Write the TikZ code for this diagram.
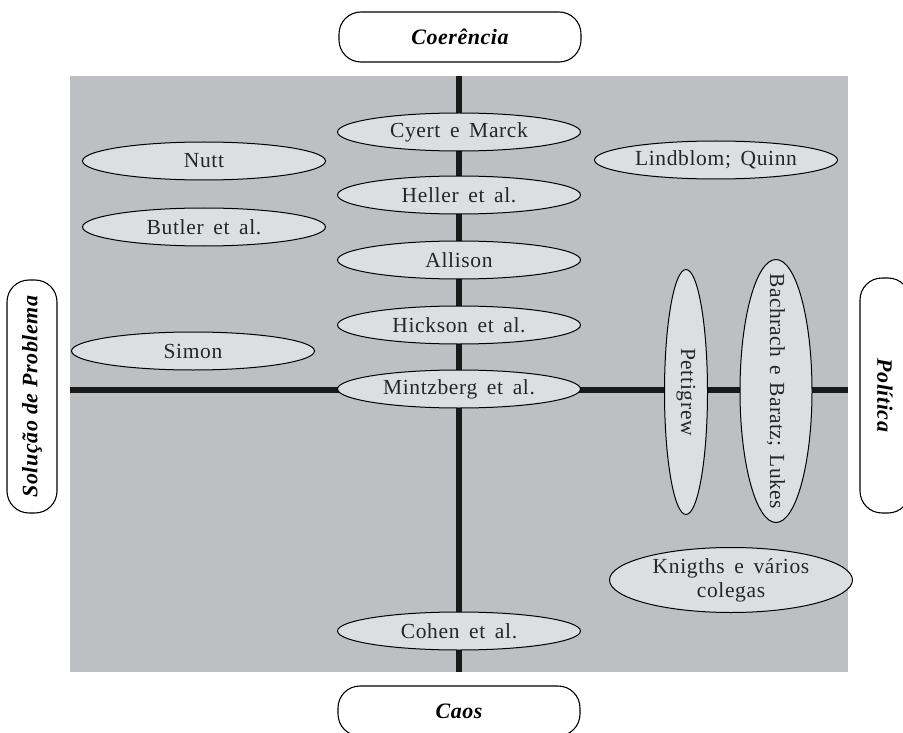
\documentclass[tikz,border=0pt]{standalone}
\usepackage{fontspec}
\setmainfont{Liberation Serif}
\newfontfamily\ellfont{Liberation Serif}[LetterSpace=3, WordSpace=1.6]
\newfontfamily\bachfont{Liberation Serif}[LetterSpace=1.5, WordSpace=1.4]
\newfontfamily\labfont{Liberation Serif}[LetterSpace=2.5]
\usetikzlibrary{shapes.geometric}
\definecolor{bggray}{RGB}{190,191,194}
\definecolor{ellgray}{RGB}{221,222,224}
\begin{document}
\begin{tikzpicture}[x=1pt,y=-1pt,
  ellfnt/.style={font=\ellfont\fontsize{21.5}{24}\selectfont, text=black!85},
  ell/.style={ellipse, draw=black, line width=1pt, fill=ellgray, inner sep=0pt,
    minimum width=243pt, minimum height=38pt, align=center, ellfnt},
  lab/.style={draw=black, line width=1.1pt, rounded corners=22pt, fill=white,
    minimum width=242pt, minimum height=50pt, inner sep=0pt,
    font=\labfont\fontsize{22}{26}\selectfont\bfseries\itshape},
  axis/.style={line width=6pt, draw=black!90}]
\useasboundingbox (0,0) rectangle (903,733);
\fill[bggray] (70,76) rectangle (848,672);
% axes
\coordinate (vt) at (459,76);
\coordinate (vb) at (459,672);
\coordinate (hl) at (70,390);
\coordinate (hr) at (848,390);
\draw[axis] (vt) -- (vb);
\draw[axis] (hl) -- (hr);
% labels
\node[lab] (coer) at (460,37) {Coerência};
\node[lab] (caos) at (459,711) {Caos};
\node[lab, rotate=90, minimum width=233pt] (sol) at (32,396.5) {Solução de Problema};
\node[lab, rotate=-90, minimum width=235pt] (pol) at (885,395.5) {Política};
% ellipses
\node[ell] (cyert) at (459,132) {Cyert e Marck};
\node[ell] (nutt) at (204,161) {Nutt};
\node[ell] (lind) at (716,160) {Lindblom; Quinn};
\node[ell] (heller) at (459,195) {Heller et al.};
\node[ell] (butler) at (204,227) {Butler et al.};
\node[ell] (allison) at (459,260) {Allison};
\node[ell] (hickson) at (459,325) {Hickson et al.};
\node[ell] (simon) at (193,351) {Simon};
\node[ell] (mintz) at (459,389) {Mintzberg et al.};
\node[ell, rotate=-90, minimum width=245pt, minimum height=43pt] (petti) at (686,392) {};
\node[ellfnt, rotate=-90, inner sep=0pt] (pettit) at (petti.center) {Pettigrew};
\node[ell, rotate=-90, minimum width=263pt, minimum height=72pt] (bach) at (776,391) {};
\node[rotate=-90, inner sep=0pt, text=black!85, font=\bachfont\fontsize{21.5}{24}\selectfont] (bacht) at (bach.center) {Bachrach e Baratz; Lukes};
\node[ell, minimum width=243pt, minimum height=65pt] (knig) at (731,580) {Knigths e vários\\colegas};
\node[ell] (cohen) at (459,631) {Cohen et al.};
\end{tikzpicture}
\end{document}
